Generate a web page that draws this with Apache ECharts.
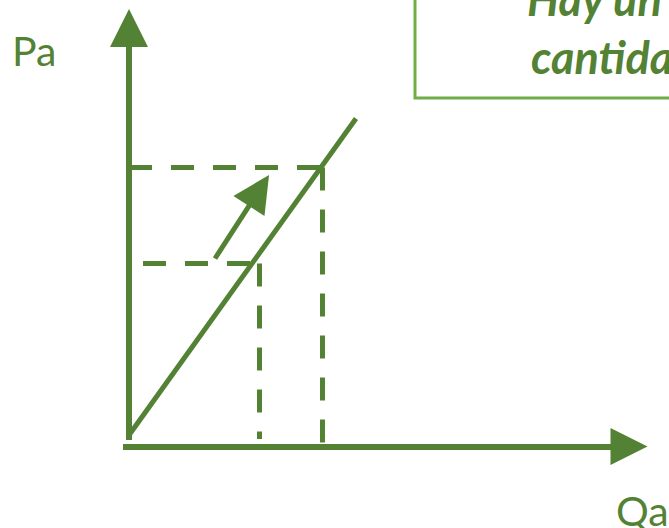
<!DOCTYPE html>
<html>
<head>
<meta charset="utf-8">
<script src="https://cdn.jsdelivr.net/npm/echarts@6/dist/echarts.min.js"></script>
<style>
html,body{margin:0;padding:0;background:#fff;}
#chart{width:669px;height:528px;}
</style>
</head>
<body>
<div id="chart"></div>
<script>
// Diagram data (units measured from the axes origin)
const quantities = [130, 193];          // Q1, Q2
const prices = [183, 279];              // P1, P2
const supplyCurve = [[-1, 10], [227, 328]];
const shiftArrow = [[86, 188], [130, 256]];
const axisLabels = ['Pa', 'Qa'];
const boxLines = ['Hay un aumento en la', 'cantidad ofrecida'];

const GREEN = '#548235';
const BOX_GREEN = '#70AD47';
const DASH = [23, 19];

const chart = echarts.init(document.getElementById('chart'), null, {renderer: 'svg'});

const [q1, q2] = quantities;
const [p1, p2] = prices;

function seg(coords, width, type, arrow, size) {
  return {
    type: 'lines',
    coordinateSystem: 'cartesian2d',
    silent: true,
    symbol: arrow ? ['none', 'triangle'] : ['none', 'none'],
    symbolSize: size || [28, 38],
    lineStyle: {color: GREEN, width: width, type: type || 'solid', opacity: 1, cap: 'butt'},
    itemStyle: {color: GREEN},
    data: [{coords: coords}],
    z: 2
  };
}

chart.setOption({
  animation: false,
  grid: {left: 0, right: 0, top: 0, bottom: 0},
  xAxis: {type: 'value', min: -129, max: 540, show: false},
  yAxis: {type: 'value', min: -81.5, max: 446.5, show: false},
  series: [
    // axes
    seg([[0, 6.5], [0, 418.5]], 6, 'solid', true, [28, 38]),
    seg([[-6, 0], [500, 0]], 6, 'solid', true, [28, 37]),
    // dashed guides
    seg([[0, p2], [q2, p2]], 5, DASH),
    seg([[q2, p2], [q2, 0]], 5, DASH),
    seg([[14, p1], [q1, p1]], 5, DASH),
    seg([[q1, p1], [q1, 7.5]], 5, DASH),
    // supply curve
    seg(supplyCurve, 5),
    // shift arrow
    seg(shiftArrow, 5, 'solid', true, [28, 37])
  ],
  graphic: [
    {type: 'rect', shape: {x: 415, y: -10, width: 400, height: 108},
     style: {fill: '#fff', stroke: BOX_GREEN, lineWidth: 3}, z: 1},
    {type: 'text', x: 527, y: -1,
     style: {text: boxLines[0], fill: GREEN, font: 'italic bold 45px Lato', align: 'left', verticalAlign: 'middle'}, z: 3},
    {type: 'text', x: 531, y: 57,
     style: {text: boxLines[1], fill: GREEN, font: 'italic bold 45px Lato', align: 'left', verticalAlign: 'middle'}, z: 3},
    {type: 'text', x: 12, y: 50,
     style: {text: axisLabels[0], fill: GREEN, font: '41px Lato', align: 'left', verticalAlign: 'middle'}, z: 3},
    {type: 'text', x: 616, y: 510,
     style: {text: axisLabels[1], fill: GREEN, font: '41px Lato', align: 'left', verticalAlign: 'middle'}, z: 3}
  ]
});
</script>
</body>
</html>
